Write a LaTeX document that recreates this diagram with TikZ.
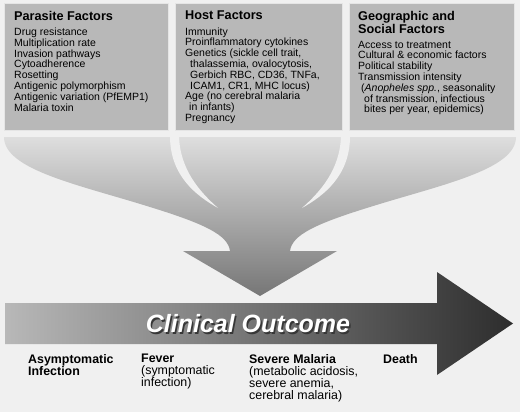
\documentclass[tikz,border=0pt]{standalone}
\usepackage{fontspec}
\setmainfont{Liberation Sans}
\usetikzlibrary{positioning}
\definecolor{bgGray}{RGB}{240,240,240}
\definecolor{boxGray}{RGB}{184,184,184}
\definecolor{funnelTop}{RGB}{222,222,222}
\definecolor{funnelBot}{RGB}{118,118,118}
\definecolor{arrowLeft}{RGB}{184,184,184}
\definecolor{arrowRight}{RGB}{45,45,45}
\definecolor{shadowGray}{RGB}{55,55,55}

\begin{document}
\begin{tikzpicture}[x=1pt,y=-1pt,
  factorbox/.style={fill=boxGray,draw=white!90!black,line width=0.8pt,anchor=north west,minimum width=164pt,minimum height=127pt,inner sep=0pt},
  factortitle/.style={anchor=north west,inner sep=0pt,align=left,font=\bfseries\fontsize{12.7}{13}\selectfont},
  factorlist/.style={anchor=north west,inner sep=0pt,align=left,font=\fontsize{10.5}{10.8}\selectfont},
  outcome/.style={anchor=north west,inner sep=0pt,align=left,font=\fontsize{12.4}{12}\selectfont},
  banner/.style={inner sep=0pt,font=\bfseries\itshape\fontsize{25}{25}\selectfont}
]
\fill[bgGray] (0,0) rectangle (520,412);
\useasboundingbox (0,0) rectangle (520,412);

% the three groups of factors
\node[factorbox] (par) at (4,3) {};
\node[factorbox,minimum width=167pt] (host) at (175,3) {};
\node[factorbox,minimum width=165pt] (geo) at (349,3) {};

\node[factortitle] (partitle) at (14,11) {Parasite Factors};
\node[factorlist,below=7pt of partitle.south west,anchor=north west] (parlist) {Drug resistance\\Multiplication rate\\Invasion pathways\\Cytoadherence\\Rosetting\\Antigenic polymorphism\\Antigenic variation (PfEMP1)\\Malaria toxin};

\node[factortitle] (hosttitle) at (185,11) {Host Factors};
\node[factorlist,below=7pt of hosttitle.south west,anchor=north west] (hostlist) {Immunity\\Proinflammatory cytokines\\Genetics (sickle cell trait,\\\hspace*{5pt}thalassemia, ovalocytosis,\\\hspace*{5pt}Gerbich RBC, CD36, TNFa,\\\hspace*{5pt}ICAM1, CR1, MHC locus)\\Age (no cerebral malaria\\\hspace*{4pt}in infants)\\Pregnancy};

\node[factortitle] (geotitle) at (358,11) {Geographic and\\Social Factors};
\node[factorlist,below=7pt of geotitle.south west,anchor=north west] (geolist) {Access to treatment\\Cultural \& economic factors\\Political stability\\Transmission intensity\\\hspace*{3pt}(\textit{Anopheles spp.}, seasonality\\\hspace*{6pt}of transmission, infectious\\\hspace*{6pt}bites per year, epidemics)};

% funnel
\shade[top color=funnelTop,bottom color=funnelBot]
  (4,137) .. controls (4,170) and (80,185) .. (150,207)
  .. controls (205,224) and (228,235) .. (230,251)
  -- (183,251) -- (260,296) -- (337,251) -- (290,251)
  .. controls (292,235) and (315,224) .. (370,207)
  .. controls (440,185) and (516,170) .. (516,137) -- cycle;
\fill[bgGray] (170,136) .. controls (170,175) and (195,195) .. (218,208)
  .. controls (200,192) and (180,170) .. (179,136) -- cycle;
\fill[bgGray] (350,136) .. controls (350,175) and (325,195) .. (302,208)
  .. controls (320,192) and (340,170) .. (341,136) -- cycle;

% outcome arrow
\shade[left color=arrowLeft,right color=arrowRight]
  (5,303) -- (437,303) -- (437,272) -- (513,323.5) -- (437,375) -- (437,344) -- (5,344) -- cycle;
\node[banner,text=shadowGray] (bannershadow) at (249.5,325.5) {Clinical Outcome};
\node[banner,text=white] (banner) at (248,324) {Clinical Outcome};

\node[outcome] (asym) at (28,354) {\textbf{Asymptomatic}\\\textbf{Infection}};
\node[outcome] (fever) at (141,354) {\textbf{Fever}\\(symptomatic\\infection)};
\node[outcome] (severe) at (249,354) {\textbf{Severe Malaria}\\(metabolic acidosis,\\severe anemia,\\cerebral malaria)};
\node[outcome] (death) at (383,354) {\textbf{Death}};
\end{tikzpicture}
\end{document}
